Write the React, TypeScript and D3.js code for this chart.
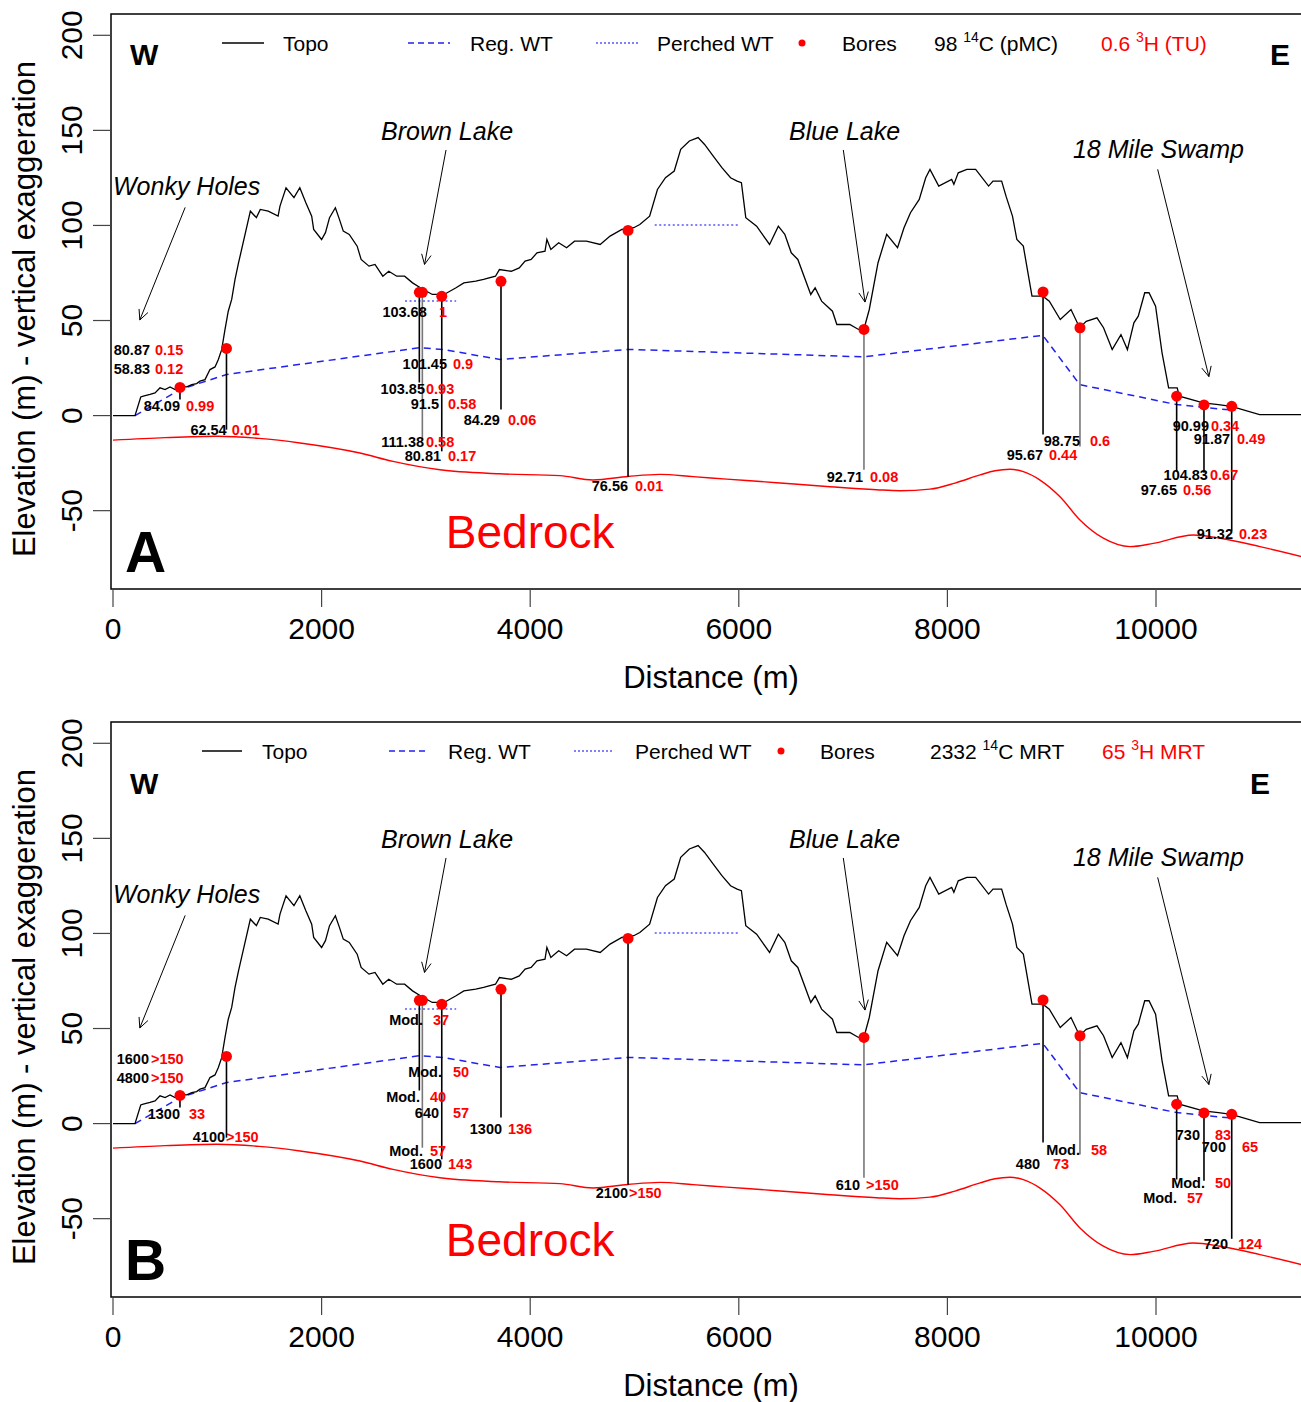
import React from 'react';
import * as d3 from 'd3';

type P = [number, number];

// ---- data (distance m, elevation m) ----
const topoProfile: P[] = [
  [0, 0], [211, 0], [266, 9.8], [290, 10.2], [355, 11.1], [403, 11.9], [451, 14.6], [499, 13.7], [547, 15.1],
  [594, 13.7], [642, 15.4], [707, 15.1], [755, 16.3], [802, 16.8], [834, 18.1], [882, 18.9], [930, 24.2],
  [978, 25.6], [1010, 29.5], [1042, 34.7], [1074, 45.3], [1105, 54.9], [1138, 61.1], [1170, 71.6], [1204, 80.4],
  [1317, 107.5], [1375, 104.1], [1412, 108.4], [1488, 107.5], [1583, 104.9], [1601, 110.2], [1659, 119.8],
  [1735, 114.6], [1791, 119.8], [1849, 111.9], [1905, 104.9], [1924, 97.9], [2000, 92.6], [2037, 96.2],
  [2076, 104.1], [2132, 109.3], [2171, 103.2], [2208, 97], [2265, 95.3], [2341, 89.1], [2379, 82.1],
  [2454, 78.6], [2512, 79.5], [2587, 73.3], [2644, 75.9], [2720, 73.3], [2796, 73.3], [2872, 69.8],
  [2947, 67.2], [3061, 63.7], [3175, 63.7], [3289, 67.2], [3364, 69.8], [3478, 70.7], [3553, 71.6],
  [3667, 73.3], [3705, 76.8], [3819, 75.9], [3895, 77.7], [3951, 81.2], [4009, 82.1], [4065, 85.6],
  [4142, 86.5], [4160, 92.6], [4198, 87.4], [4273, 90.9], [4349, 88.3], [4425, 91.7], [4539, 91.7],
  [4671, 90], [4766, 94.4], [4879, 97.9], [4993, 98.8], [5051, 100.5], [5145, 104.9], [5220, 118.9],
  [5297, 125.1], [5381, 128.6], [5443, 140], [5526, 144.4], [5610, 146.2], [5672, 142.6], [5755, 136.5],
  [5838, 130.4], [5921, 125.1], [5984, 123.3], [6025, 122.5], [6067, 104.1], [6171, 99.6], [6295, 90],
  [6379, 99.6], [6441, 95.3], [6503, 85.6], [6566, 82.1], [6690, 63.7], [6732, 67.2], [6794, 60.2],
  [6898, 54.9], [6940, 47.9], [7064, 47.9], [7148, 45.3], [7197, 44.9], [7251, 55.8], [7335, 80.4],
  [7418, 95.3], [7522, 88.3], [7584, 98.8], [7646, 106.7], [7730, 113.7], [7792, 125.1], [7833, 129.5],
  [7917, 120.7], [8041, 124.2], [8062, 121.6], [8104, 127.7], [8187, 129.5], [8271, 129.5], [8395, 120.7],
  [8437, 123.3], [8520, 123.3], [8562, 115.4], [8624, 104.9], [8666, 92.6], [8728, 89.1], [8811, 62.8],
  [8915, 62.8], [8977, 60.2], [9082, 50.5], [9185, 55.8], [9268, 46.2], [9331, 49.6], [9434, 51.4],
  [9497, 46.2], [9580, 34.7], [9664, 42.6], [9726, 34.7], [9788, 48.8], [9830, 52.3], [9892, 64.6],
  [9933, 64.6], [9996, 57.5], [10058, 33], [10121, 14.6], [10203, 14.6], [10224, 10.2], [10453, 6.7],
  [10598, 5.8], [10723, 4.9], [10993, 0.5], [11420, 0.5],
];

const regionalWT: P[] = [
  [211, 0], [642, 13.7], [1090, 21.6], [2943, 35.7], [3164, 34.8], [3710, 29.5], [4938, 34.8],
  [7197, 30.9], [8915, 42.2], [9269, 16.3], [10197, 5.8], [10724, 2.9],
];

const perchedWT: P[][] = [
  [[2800, 60.3], [3290, 60.3]],
  [[5194, 100.2], [6005, 100.2]],
];

const bedrock: P[] = [
  [0, -12.9], [500, -11.6], [994, -10.9], [1400, -12], [1793, -14.4], [2368, -19.7], [2685, -24.1],
  [3135, -28.5], [3700, -30.6], [4286, -31.6], [4602, -33.9], [4938, -32], [5244, -30.9], [5561, -32.1],
  [5884, -33.4], [6363, -35.3], [6843, -37.3], [7322, -39], [7546, -39.5], [7833, -38.7], [8073, -35.5],
  [8313, -31.2], [8456, -29], [8600, -28.2], [8728, -29.5], [8888, -33.9], [9080, -42.7], [9271, -54.9],
  [9495, -64.5], [9751, -68.9], [9974, -67.2], [10358, -62.8], [10614, -64.5], [10997, -68.9], [11420, -74.5],
];

// bores: distance, topo elevation of dot, bottom of the drawn screen line
const boreDist = [642, 1088, 2937, 2966, 3152, 3720, 4938, 7200, 8917, 9271, 10198, 10460, 10726];
const boreTop = [14.8, 35.3, 64.8, 64.8, 62.7, 70.6, 97.4, 45.3, 65, 46.2, 10.2, 5.6, 4.9];
const boreBottom = [8.4, -7.4, 17.4, -12.7, -18.8, 3.2, -32.2, -28.5, -10, -16.2, -29.4, -30, -60.6];
const boreGrey = [false, false, false, true, false, false, false, true, false, true, false, false, false];

// label rows: [black end distance, red start distance, elevation, 14C text, 3H text]
type Lab = [number, number, number, string, string];
const labelsA: Lab[] = [
  [355, 403, 34.5, '80.87', '0.15'], [355, 403, 24.5, '58.83', '0.12'], [642, 700, 5, '84.09', '0.99'],
  [1090, 1138, -7.7, '62.54', '0.01'], [3008, 3126, 54.6, '103.68', '1'], [3202, 3260, 27.1, '101.45', '0.9'],
  [2991, 3001, 14, '103.85', '0.93'], [3126, 3212, 6.1, '91.5', '0.58'], [3710, 3787, -2.3, '84.29', '0.06'],
  [2982, 3001, -13.9, '111.38', '0.58'], [3145, 3212, -21.2, '80.81', '0.17'], [4938, 5005, -37, '76.56', '0.01'],
  [7191, 7258, -32.3, '92.71', '0.08'], [9271, 9367, -13.4, '98.75', '0.6'], [8917, 8974, -20.7, '95.67', '0.44'],
  [10508, 10527, -5.3, '90.99', '0.34'], [10710, 10777, -12.3, '91.87', '0.49'], [10498, 10518, -31.2, '104.83', '0.67'],
  [10201, 10259, -38.8, '97.65', '0.56'], [10738, 10796, -62.3, '91.32', '0.23'],
];
const labelsB: Lab[] = [
  [345, 364, 34.3, '1600', '>150'], [345, 364, 24.1, '4800', '>150'], [642, 729, 5, '1300', '33'],
  [1074, 1083, -7.2, '4100', '>150'], [2972, 3068, 54.5, 'Mod.', '37'], [3154, 3260, 27.3, 'Mod.', '50'],
  [2943, 3039, 14.1, 'Mod.', '40'], [3126, 3260, 5.7, '640', '57'], [3730, 3787, -2.5, '1300', '136'],
  [2972, 3039, -14.3, 'Mod.', '57'], [3154, 3212, -20.9, '1600', '143'], [4938, 4947, -36.5, '2100', '>150'],
  [7162, 7220, -32.3, '610', '>150'], [9271, 9377, -13.9, 'Mod.', '58'], [8888, 9012, -20.9, '480', '73'],
  [10422, 10566, -6, '730', '83'], [10671, 10824, -12.1, '700', '65'], [10470, 10566, -31.4, 'Mod.', '50'],
  [10201, 10297, -38.8, 'Mod.', '57'], [10690, 10786, -63, '720', '124'],
];

// site names: text anchor (d, e), arrow from, arrow to
const siteNames = ['Wonky Holes', 'Brown Lake', 'Blue Lake', '18 Mile Swamp'];
const siteText: P[] = [[0, 116], [2570, 145], [6481, 145], [9204, 135.5]];
const siteArrowFrom: P[] = [[692, 109.5], [3193, 139.7], [7002, 139.7], [10016, 129.5]];
const siteArrowTo: P[] = [[257, 50.3], [2987, 79.5], [7210, 59.7], [10507, 20.5]];

const xTicks = [0, 2000, 4000, 6000, 8000, 10000];
const yTicks = [-50, 0, 50, 100, 150, 200];

const FONT = "'Liberation Sans', Arial, Helvetica, sans-serif";
const BLUE = '#2222ee';
const RED = '#ff0000';

interface LegendLayout {
  topoLine: [number, number]; topoText: number; regLine: [number, number]; regText: number;
  perLine: [number, number]; perText: number; boreDot: number; boreText: number; c14Text: number; h3Text: number;
}

function Panel(props: {
  off: number; labels: Lab[]; letter: string; c14: [string, string]; h3: [string, string];
  leg: LegendLayout; wY: number; eX: number; id: string;
}) {
  const { off, labels, letter, c14, h3, leg, wY, eX, id } = props;
  const x = d3.scaleLinear().domain([0, 10000]).range([113, 1156]);
  const y = d3.scaleLinear().domain([-91.2, 211.2]).range([589 + off, 14 + off]);
  const line = d3.line<P>().x((d) => x(d[0])).y((d) => y(d[1]));
  const smooth = d3.line<P>().x((d) => x(d[0])).y((d) => y(d[1])).curve(d3.curveMonotoneX);
  const top = 14 + off, bottom = 589 + off;
  const legY = 43 + off;

  const arrow = (a: P, b: P, key: number) => {
    const x1 = x(a[0]), y1 = y(a[1]), x2 = x(b[0]), y2 = y(b[1]);
    const ang = Math.atan2(y2 - y1, x2 - x1);
    const L = 11, s = 0.45;
    const h1: P = [x2 - L * Math.cos(ang - s), y2 - L * Math.sin(ang - s)];
    const h2: P = [x2 - L * Math.cos(ang + s), y2 - L * Math.sin(ang + s)];
    return (
      <g key={key} stroke="#000" strokeWidth={1} fill="none">
        <line x1={x1} y1={y1} x2={x2} y2={y2} />
        <polyline points={`${h1[0]},${h1[1]} ${x2},${y2} ${h2[0]},${h2[1]}`} />
      </g>
    );
  };

  return (
    <g fontFamily={FONT}>
      <defs>
        <clipPath id={id}>
          <rect x={111} y={top} width={1200} height={bottom - top} />
        </clipPath>
      </defs>
      <g clipPath={`url(#${id})`}>
        <path d={smooth(bedrock) || ''} fill="none" stroke={RED} strokeWidth={1.4} />
        <path d={line(regionalWT) || ''} fill="none" stroke={BLUE} strokeWidth={1.5} strokeDasharray="7,5" />
        {perchedWT.map((seg, i) => (
          <path key={i} d={line(seg) || ''} fill="none" stroke="#5555ff" strokeWidth={1.5} strokeDasharray="2,2.5" />
        ))}
        <path d={line(topoProfile) || ''} fill="none" stroke="#000" strokeWidth={1.3} />
        {boreDist.map((d, i) => (
          <line key={i} x1={x(d)} x2={x(d)} y1={y(boreTop[i])} y2={y(boreBottom[i])}
            stroke={boreGrey[i] ? '#777' : '#000'} strokeWidth={1.6} />
        ))}
        {boreDist.map((d, i) => (
          <circle key={i} cx={x(d)} cy={y(boreTop[i])} r={5.5} fill={RED} />
        ))}
      </g>
      {/* box */}
      <rect x={111} y={top} width={1200} height={bottom - top} fill="none" stroke="#000" strokeWidth={1.5} />
      {/* x axis */}
      {xTicks.map((t) => (
        <g key={t}>
          <line x1={x(t)} x2={x(t)} y1={bottom} y2={bottom + 18} stroke="#444" strokeWidth={1.2} />
          <text x={x(t)} y={bottom + 50} fontSize={30} textAnchor="middle">{t}</text>
        </g>
      ))}
      <text x={711} y={bottom + 99} fontSize={31} textAnchor="middle">Distance (m)</text>
      {/* y axis */}
      {yTicks.map((t) => (
        <g key={t}>
          <line x1={93} x2={111} y1={y(t)} y2={y(t)} stroke="#444" strokeWidth={1.2} />
          <text transform={`translate(82,${y(t)}) rotate(-90)`} fontSize={30} textAnchor="middle">{t}</text>
        </g>
      ))}
      <text transform={`translate(35,${309 + off}) rotate(-90)`} fontSize={31} textAnchor="middle">
        Elevation (m) - vertical exaggeration
      </text>
      {/* legend */}
      <g fontSize={21}>
        <line x1={leg.topoLine[0]} x2={leg.topoLine[1]} y1={legY} y2={legY} stroke="#000" strokeWidth={1.3} />
        <text x={leg.topoText} y={legY + 7.5}>Topo</text>
        <line x1={leg.regLine[0]} x2={leg.regLine[1]} y1={legY} y2={legY} stroke={BLUE} strokeWidth={1.5} strokeDasharray="6,4" />
        <text x={leg.regText} y={legY + 7.5}>Reg. WT</text>
        <line x1={leg.perLine[0]} x2={leg.perLine[1]} y1={legY} y2={legY} stroke="#5555ff" strokeWidth={1.5} strokeDasharray="2,2" />
        <text x={leg.perText} y={legY + 7.5}>Perched WT</text>
        <circle cx={leg.boreDot} cy={legY} r={3.5} fill={RED} />
        <text x={leg.boreText} y={legY + 7.5}>Bores</text>
        <text x={leg.c14Text} y={legY + 7.5}>
          {c14[0] + ' '}
          <tspan fontSize={14} dy={-9}>14</tspan>
          <tspan dy={9}>{c14[1]}</tspan>
        </text>
        <text x={leg.h3Text} y={legY + 7.5} fill={RED}>
          {h3[0] + ' '}
          <tspan fontSize={14} dy={-9}>3</tspan>
          <tspan dy={9}>{h3[1]}</tspan>
        </text>
      </g>
      <text x={130} y={wY + off} fontSize={30} fontWeight="bold">W</text>
      <text x={eX} y={wY + off} fontSize={30} fontWeight="bold">E</text>
      {/* site names and arrows */}
      {siteNames.map((n, i) => (
        <text key={n} x={x(siteText[i][0])} y={y(siteText[i][1])} fontSize={25} fontStyle="italic">{n}</text>
      ))}
      {siteNames.map((n, i) => arrow(siteArrowFrom[i], siteArrowTo[i], i))}
      {/* bore labels */}
      <g fontSize={14.5} fontWeight="bold">
        {labels.map((l, i) => (
          <g key={i}>
            <text x={x(l[0])} y={y(l[2]) + 5.2} textAnchor="end" fill="#000">{l[3]}</text>
            <text x={x(l[1])} y={y(l[2]) + 5.2} fill={RED}>{l[4]}</text>
          </g>
        ))}
      </g>
      <text x={x(4000)} y={y(-69.6)} fontSize={46} fill={RED} textAnchor="middle">Bedrock</text>
      <text x={x(115)} y={y(-82.3)} fontSize={57} fontWeight="bold">{letter}</text>
    </g>
  );
}

const legendA: LegendLayout = {
  topoLine: [222, 264], topoText: 283, regLine: [408, 450], regText: 470, perLine: [596, 638], perText: 657,
  boreDot: 802, boreText: 842, c14Text: 934, h3Text: 1101,
};
const legendB: LegendLayout = {
  topoLine: [202, 242], topoText: 262, regLine: [389, 428], regText: 448, perLine: [574, 614], perText: 635,
  boreDot: 781, boreText: 820, c14Text: 930, h3Text: 1102,
};

export default function App() {
  return (
    <svg width={1301} height={1402} style={{ position: 'absolute', left: 0, top: 0, background: '#fff' }}>
      <rect x={0} y={0} width={1301} height={1402} fill="#fff" />
      <Panel id="clipA" off={0} labels={labelsA} letter="A" c14={['98', 'C (pMC)']} h3={['0.6', 'H (TU)']}
        leg={legendA} wY={65} eX={1270} />
      <Panel id="clipB" off={708} labels={labelsB} letter="B" c14={['2332', 'C MRT']} h3={['65', 'H MRT']}
        leg={legendB} wY={86} eX={1250} />
    </svg>
  );
}
